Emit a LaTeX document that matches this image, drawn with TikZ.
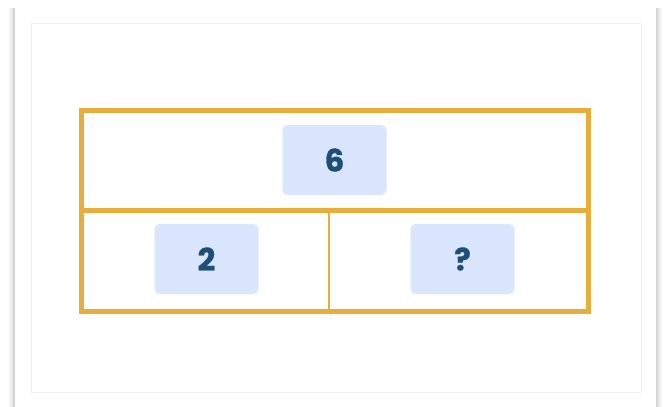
\documentclass[tikz,border=0pt]{standalone}
\usepackage{fontspec}
\setmainfont{Poppins}
\newfontfamily\chipfont{Poppins}[BoldFeatures={FakeBold=0.9}]
\usetikzlibrary{positioning}
\definecolor{barorange}{HTML}{E8AE3C}
\definecolor{chipblue}{HTML}{DAE6FD}
\definecolor{numblue}{HTML}{1F4E79}
\tikzset{
	chip/.style={fill=chipblue, rounded corners=5pt, minimum width=104pt, minimum height=70pt,
		inner sep=0pt, text=numblue, font=\chipfont\fontsize{31}{36}\selectfont\bfseries},
	barline/.style={draw=barorange, line width=5pt},
}

\begin{document}
\begin{tikzpicture}[x=1pt,y=-1pt]
		%%%%% START %%%%%
		\useasboundingbox (0,0) rectangle (667,407);
		
		% card and its shadow
		\foreach \o/\c in {6/3,5/5,4/8,3/11,2/14,1/17}
			\fill[black!\c] (15-\o, 8) rectangle (656+\o, 407);
		\fill[white] (15,6) rectangle (656,407);
		\draw[black!6, line width=0.8pt] (31,23) rectangle (641,392);
		
		% bar model
		\coordinate (tl) at (81,110);
		\coordinate (br) at (588,311);
		\coordinate (midl) at (81,210);
		\coordinate (midr) at (588,210);
		\coordinate (splitt) at (329,210);
		\coordinate (splitb) at (329,311);
		\draw[barline] (tl) rectangle (br);
		\draw[barline] (midl) -- (midr);
		\draw[barline, line width=2pt] (splitt) -- (splitb);
		
		\node[chip] (whole) at (334.5,160) {6};
		\node[chip] (partA) at (206.5,259) {2};
		\node[chip] (partB) at (462.5,259) {?};
		
		%%%%% END %%%%%
\end{tikzpicture}
\end{document}
